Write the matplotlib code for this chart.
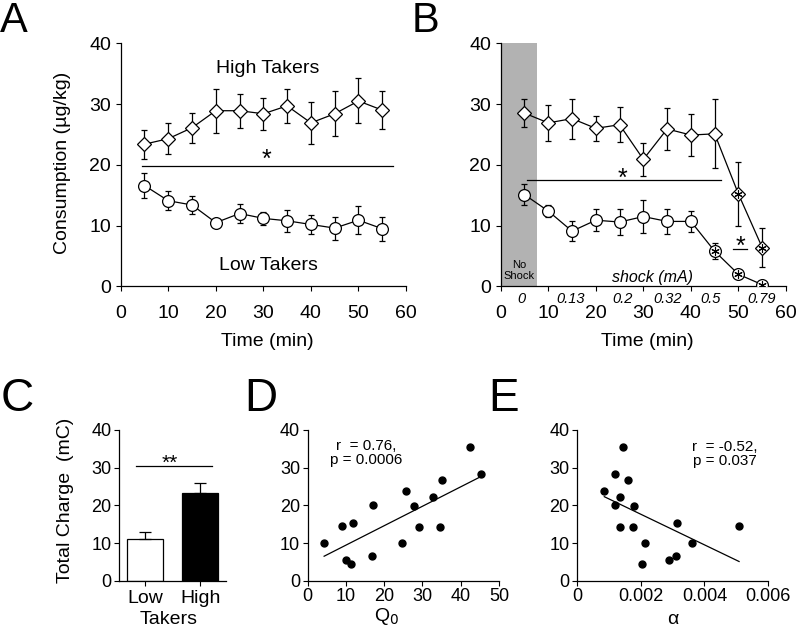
import numpy as np
import matplotlib
matplotlib.use('Agg')
import matplotlib.pyplot as plt
from matplotlib import transforms

plt.rcParams['font.family'] = ['Liberation Sans', 'DejaVu Sans']

# --- data ---
time_min = [5, 10, 15, 20, 25, 30, 35, 40, 45, 50, 55]

a_high = [23.4, 24.3, 26.1, 28.9, 28.9, 28.4, 29.7, 26.9, 28.4, 30.5, 29.0]
a_high_err = [2.4, 2.5, 2.5, 3.6, 2.8, 2.6, 2.8, 3.4, 3.7, 3.7, 3.1]
a_low = [16.6, 14.1, 13.4, 10.5, 12.0, 11.2, 10.8, 10.2, 9.6, 10.9, 9.5]
a_low_err = [2.1, 1.6, 1.5, 0.4, 1.5, 1.1, 1.8, 1.6, 1.9, 2.3, 2.0]

b_high = [28.5, 26.9, 27.6, 26.0, 26.6, 20.9, 25.9, 24.9, 25.1, 15.2, 6.4]
b_high_err = [2.3, 3.0, 3.3, 2.1, 2.9, 2.7, 3.5, 3.4, 5.7, 5.3, 3.2]
b_low = [15.1, 12.4, 9.1, 10.9, 10.6, 11.5, 10.7, 10.7, 5.8, 2.0, 0.3]
b_low_err = [1.7, 1.0, 1.6, 1.8, 2.1, 2.7, 2.0, 1.7, 1.3, 0.5, 0.3]
b_high_starred = [50, 55]
b_low_starred = [45, 50, 55]

shock_ma = ['0', '0.13', '0.2', '0.32', '0.5', '0.79']
shock_label_x = [4.3, 14.8, 25.6, 35.0, 44.2, 54.9]
no_shock_end = 7.7

groups = ['Low', 'High']
charge = [11.0, 23.2]
charge_err = [1.9, 2.7]

q0 = [4.3, 8.9, 10.0, 11.4, 11.8, 16.7, 17.0, 24.7, 25.8, 27.8, 29.0, 32.7, 34.7, 35.0, 42.3, 45.4]
d_cons = [10.0, 14.5, 5.6, 4.4, 15.3, 6.6, 20.2, 10.1, 23.7, 19.7, 14.2, 22.3, 14.2, 26.8, 35.5, 28.2]
fit_d_x = [4.3, 45.4]
fit_d_y = [6.5, 27.7]

alpha = [0.00085, 0.00119, 0.00119, 0.00133, 0.00135, 0.00143, 0.00158, 0.00177,
         0.00176, 0.00204, 0.00212, 0.00289, 0.00309, 0.00314, 0.00362, 0.00509]
e_cons = [23.7, 28.2, 20.2, 22.3, 14.2, 35.5, 26.8, 19.7, 14.2, 4.4, 10.0, 5.6, 6.6, 15.3, 10.1, 14.5]
fit_e_x = [0.00085, 0.00509]
fit_e_y = [22.3, 5.1]

sig_a = ([4.5, 57.3], [19.8, 19.8])
sig_b1 = ([5.5, 46.3], [17.5, 17.5])
sig_b2 = ([48.9, 51.9], [6.2, 6.2])
sig_c = ([-0.16, 1.22], [30.4, 30.4])

BIG = 14
SMALL = 13


def style_axes(ax, size):
    for s in ['top', 'right']:
        ax.spines[s].set_visible(False)
    for s in ['left', 'bottom']:
        ax.spines[s].set_linewidth(0.9)
    ax.tick_params(direction='out', length=3.5, width=0.8, labelsize=size)


def draw_series(ax, y, err, marker, ms):
    ax.errorbar(time_min, y, yerr=err, color='black', lw=0.9, elinewidth=0.9,
                capsize=2.5, capthick=0.9, marker=marker, ms=ms, mfc='white',
                mec='black', mew=0.9, zorder=3)


fig = plt.figure(figsize=(8, 6.28), dpi=100)

# ---------- A ----------
ax = fig.add_axes([0.1509, 0.5438, 0.3566, 0.3874])
style_axes(ax, BIG)
draw_series(ax, a_high, a_high_err, 'D', 6.8)
draw_series(ax, a_low, a_low_err, 'o', 8.5)
ax.plot(*sig_a, color='black', lw=0.9)
ax.text(30.7, 19.6, '*', fontsize=18, ha='center', va='baseline')
ax.text(31, 35.9, 'High Takers', fontsize=BIG, ha='center', va='center')
ax.text(31, 3.4, 'Low Takers', fontsize=BIG, ha='center', va='center')
ax.set_xlim(0, 60)
ax.set_ylim(0, 40)
ax.set_xticks(range(0, 61, 10))
ax.set_yticks(range(0, 41, 10))
ax.tick_params(axis='x', pad=10)
ax.set_xlabel('Time (min)', fontsize=BIG)
ax.xaxis.set_label_coords(0.513, -0.19)
ax.set_ylabel('Consumption (µg/kg)', fontsize=BIG)
ax.yaxis.set_label_coords(-0.174, 0.508)

# ---------- B ----------
ax = fig.add_axes([0.6259, 0.5438, 0.3566, 0.3874])
style_axes(ax, BIG)
ax.axvspan(0, no_shock_end, ymin=0, ymax=1, color='#b2b2b2', lw=0, zorder=0)
ax.text(no_shock_end / 2, 2.6, 'No\nShock', fontsize=8, ha='center', va='center',
        linespacing=1.1)
draw_series(ax, b_high, b_high_err, 'D', 6.8)
draw_series(ax, b_low, b_low_err, 'o', 8.5)
hs = [b_high[time_min.index(t)] for t in b_high_starred]
ls = [b_low[time_min.index(t)] for t in b_low_starred]
ax.plot(b_high_starred, hs, ls='none', marker=(6, 2, 0), ms=6, mew=0.8, color='black', zorder=4)
ax.plot(b_low_starred, ls, ls='none', marker=(6, 2, 0), ms=6, mew=0.8, color='black', zorder=4)
ax.plot(*sig_b1, color='black', lw=0.9)
ax.text(25.6, 16.6, '*', fontsize=18, ha='center', va='baseline')
ax.plot(*sig_b2, color='black', lw=0.9)
ax.text(50.5, 5.4, '*', fontsize=18, ha='center', va='baseline')
ax.text(32.0, 1.4, 'shock (mA)', fontsize=11.5, style='italic', ha='center', va='center')
trans = transforms.blended_transform_factory(ax.transData, ax.transAxes)
for x, lab in zip(shock_label_x, shock_ma):
    ax.text(x, -0.053, lab, fontsize=10.5, style='italic', ha='center', va='center',
            transform=trans)
ax.set_xlim(0, 60)
ax.set_ylim(0, 40)
ax.set_xticks(range(0, 61, 10))
ax.set_yticks(range(0, 41, 10))
ax.tick_params(axis='x', pad=10)
ax.set_xlabel('Time (min)', fontsize=BIG)
ax.xaxis.set_label_coords(0.513, -0.19)

# ---------- C ----------
ax = fig.add_axes([0.1488, 0.0753, 0.1338, 0.2400])
style_axes(ax, SMALL)
ax.bar([0, 1], charge, width=0.65, color=['white', 'black'], edgecolor='black', lw=0.9)
ax.errorbar([0, 1], charge, yerr=[[0, 0], charge_err], fmt='none', ecolor='black',
            elinewidth=0.9, capsize=4, capthick=0.9)
ax.plot(*sig_c, color='black', lw=0.9)
ax.text(0.45, 29.6, '**', fontsize=15, ha='center', va='baseline')
ax.set_xlim(-0.47, 1.47)
ax.set_ylim(0, 40)
ax.set_yticks(range(0, 41, 10))
ax.set_xticks([0, 1])
ax.set_xticklabels(groups, fontsize=BIG)
ax.tick_params(axis='y', pad=2)
ax.set_xlabel('Takers', fontsize=BIG)
ax.xaxis.set_label_coords(0.46, -0.2)
ax.set_ylabel('Total Charge  (mC)', fontsize=BIG)
ax.yaxis.set_label_coords(-0.425, 0.535)

# ---------- D ----------
ax = fig.add_axes([0.3846, 0.0753, 0.2391, 0.2400])
style_axes(ax, SMALL)
ax.plot(q0, d_cons, 'o', color='black', ms=5)
ax.plot(fit_d_x, fit_d_y, color='black', lw=0.9)
ax.text(15.4, 33.9, 'r  = 0.76,\np = 0.0006', fontsize=11, ha='center', va='center',
        linespacing=1.0)
ax.set_xlim(0, 50)
ax.set_ylim(0, 40)
ax.set_xticks(range(0, 51, 10))
ax.set_yticks(range(0, 41, 10))
ax.tick_params(pad=2)
ax.set_xlabel('Q$_0$', fontsize=BIG)
ax.xaxis.set_label_coords(0.41, -0.165)

# ---------- E ----------
ax = fig.add_axes([0.7216, 0.0753, 0.2384, 0.2400])
style_axes(ax, SMALL)
ax.plot(alpha, e_cons, 'o', color='black', ms=5)
ax.plot(fit_e_x, fit_e_y, color='black', lw=0.9)
ax.text(0.00464, 33.5, 'r  = -0.52,\np = 0.037', fontsize=11, ha='center', va='center',
        linespacing=1.0)
ax.set_xlim(0, 0.006)
ax.set_ylim(0, 40)
ax.set_xticks([0, 0.002, 0.004, 0.006])
ax.set_xticklabels(['0', '0.002', '0.004', '0.006'])
ax.set_yticks(range(0, 41, 10))
ax.tick_params(pad=2)
ax.set_xlabel('α', fontsize=BIG)
ax.xaxis.set_label_coords(0.5, -0.2)

# panel letters
fig.text(0.0, 0.949, 'A', fontsize=30, va='baseline', ha='left')
fig.text(0.515, 0.949, 'B', fontsize=30, va='baseline', ha='left')
fig.text(0.001, 0.3455, 'C', fontsize=33, va='baseline', ha='left')
fig.text(0.305, 0.3455, 'D', fontsize=33, va='baseline', ha='left')
fig.text(0.61, 0.3455, 'E', fontsize=33, va='baseline', ha='left')

fig.savefig('out.png', dpi=100)
